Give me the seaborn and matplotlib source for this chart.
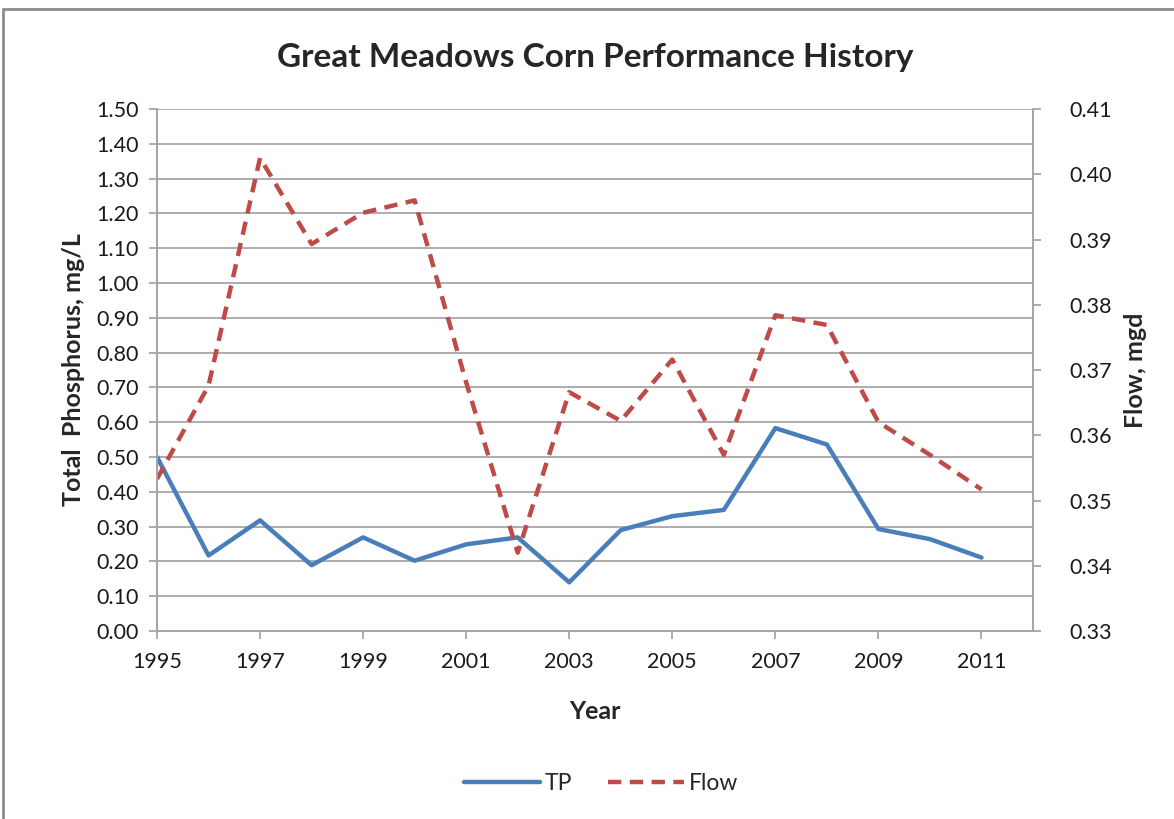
import pandas as pd
import matplotlib
matplotlib.use("Agg")
import matplotlib.pyplot as plt
import seaborn as sns
from matplotlib.lines import Line2D
from matplotlib.patches import Rectangle

years = list(range(1995, 2012))
tp = [0.50, 0.217, 0.318, 0.189, 0.269, 0.202, 0.249, 0.269, 0.140,
      0.290, 0.330, 0.348, 0.583, 0.536, 0.293, 0.264, 0.211]
flow = [0.3533, 0.3676, 0.4025, 0.3893, 0.3941, 0.3960, 0.3681, 0.3420, 0.3666,
        0.3622, 0.3716, 0.3570, 0.3784, 0.3769, 0.3620, 0.3570, 0.3517]

left_ticks = [i / 10 for i in range(0, 16)]
right_ticks = [0.33 + i / 100 for i in range(0, 9)]
year_ticks = list(range(1995, 2012, 2))

df = pd.DataFrame({"Year": years, "TP": tp, "Flow": flow})

sns.set_style("white")
plt.rcParams["font.family"] = ["Lato", "DejaVu Sans"]

blue = "#4A7EBB"
red = "#BE4B48"
grid_c = "#A6A6A6"

fig = plt.figure(figsize=(11.74, 8.19), dpi=100)
ax = fig.add_axes([157 / 1174, 1 - 631 / 819, (1033 - 157) / 1174, (631 - 109) / 819])
ax2 = ax.twinx()

sns.lineplot(data=df, x="Year", y="TP", ax=ax, color=blue, linewidth=3.2)
sns.lineplot(data=df, x="Year", y="Flow", ax=ax2, color=red, linewidth=3.2)
ax2.lines[0].set_dashes((3, 1.9))

ax.set_xlim(1995, 2012)
ax.set_ylim(0, 1.5)
ax2.set_ylim(0.33, 0.41)
ax.set_yticks(left_ticks)
ax.set_yticklabels([f"{v:.2f}" for v in left_ticks])
ax2.set_yticks(right_ticks)
ax2.set_yticklabels([f"{v:.2f}" for v in right_ticks])
ax.set_xticks(year_ticks)
ax.set_xticklabels([str(y) for y in year_ticks])

ax.yaxis.grid(True, color=grid_c, linewidth=1.3)
ax.set_axisbelow(True)

for a in (ax, ax2):
    a.spines["top"].set_visible(False)
    for s in ("left", "right", "bottom"):
        a.spines[s].set_color(grid_c)
        a.spines[s].set_linewidth(1.3)
    a.tick_params(axis="both", which="major", length=6, width=1.3, color=grid_c,
                  labelsize=15.5, labelcolor="#1a1a1a", direction="out")

ax.tick_params(axis="y", left=True, pad=7)
ax.tick_params(axis="x", bottom=True, pad=9)
ax2.tick_params(axis="y", right=True, pad=20)

ax.set_xlabel("Year", fontsize=18, fontweight="bold", labelpad=20)
ax.set_ylabel("Total  Phosphorus, mg/L", fontsize=18, fontweight="bold", labelpad=8)
ax2.set_ylabel("Flow, mgd", fontsize=18, fontweight="bold", labelpad=9)

fig.text(595 / 1174, 1 - 57 / 819, "Great Meadows Corn Performance History",
         ha="center", va="center", fontsize=24, fontweight="bold")

handles = [Line2D([], [], color=blue, linewidth=3.2),
           Line2D([], [], color=red, linewidth=3.2, dashes=(3, 1.9))]
fig.legend(handles, ["TP", "Flow"], loc="center", bbox_to_anchor=(601 / 1174, 1 - 784 / 819),
           ncol=2, frameon=False, fontsize=16.5, handlelength=3.3, columnspacing=1.6,
           handletextpad=0.2)

fig.patches.append(Rectangle((3 / 1174, -0.05), 1.2, 1 - 9 / 819 + 0.05,
                             transform=fig.transFigure, fill=False,
                             edgecolor="#8C8C8C", linewidth=2))

fig.savefig("out.png", dpi=100)
